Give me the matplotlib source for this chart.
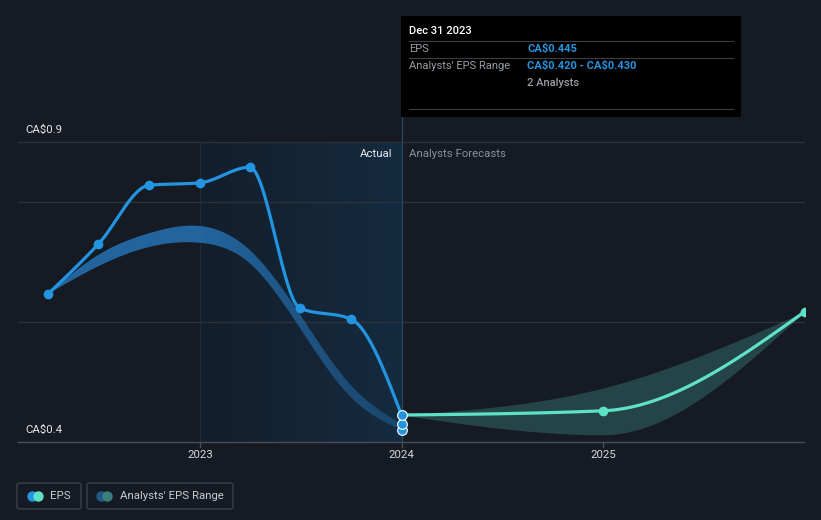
import numpy as np
import pandas as pd
import matplotlib
matplotlib.use("Agg")
import matplotlib.pyplot as plt
from matplotlib.patches import FancyBboxPatch, Rectangle
from matplotlib.colors import LinearSegmentedColormap, to_rgb

plt.rcParams['font.family'] = ['Roboto', 'DejaVu Sans']

# ---------------- data ----------------
eps_dates = ["2022-03-31", "2022-06-30", "2022-09-30", "2022-12-31",
             "2023-03-31", "2023-06-30", "2023-09-30", "2023-12-31"]
eps_values = [0.647, 0.730, 0.828, 0.832, 0.858, 0.623, 0.605, 0.445]

past_range_dates = eps_dates
past_range_high = [0.647, 0.712, 0.748, 0.760, 0.720, 0.613, 0.495, 0.430]
past_range_low = [0.647, 0.693, 0.725, 0.732, 0.698, 0.590, 0.475, 0.420]

fc_dates = ["2023-12-31", "2024-12-31", "2025-12-31"]
fc_values = [0.445, 0.452, 0.617]
fc_high = [0.445, 0.490, 0.617]
fc_low = [0.445, 0.412, 0.617]

dec2023_markers = [0.445, 0.430, 0.420]

x_ticks = [2023, 2024, 2025]
x_tick_labels = ["2023", "2024", "2025"]
y_labels = {0.9: "CA\\$0.9", 0.4: "CA\\$0.4"}
grid_values = [0.9, 0.8, 0.6, 0.4]

# ---------------- helpers ----------------
W, H = 821, 520


def dec_year(s):
    t = pd.Timestamp(s)
    start = pd.Timestamp(year=t.year, month=1, day=1)
    end = pd.Timestamp(year=t.year + 1, month=1, day=1)
    return t.year + (t - start) / (end - start) + 1.0 / 365.0


def monotone(x, y, n=60):
    x = np.asarray(x, float)
    y = np.asarray(y, float)
    k = len(x)
    h = np.diff(x)
    s = np.diff(y) / h
    t = np.zeros(k)
    for i in range(1, k - 1):
        p = (s[i - 1] * h[i] + s[i] * h[i - 1]) / (h[i - 1] + h[i])
        t[i] = (np.sign(s[i - 1]) + np.sign(s[i])) * min(abs(s[i - 1]), abs(s[i]), 0.5 * abs(p))
    t[0] = (3 * s[0] - t[1]) / 2 if k > 2 else s[0]
    t[-1] = (3 * s[-1] - t[-2]) / 2 if k > 2 else s[-1]
    xs, ys = [], []
    for i in range(k - 1):
        u = np.linspace(0, 1, n, endpoint=(i == k - 2))
        h00 = 2 * u**3 - 3 * u**2 + 1
        h10 = u**3 - 2 * u**2 + u
        h01 = -2 * u**3 + 3 * u**2
        h11 = u**3 - u**2
        xs.append(x[i] + u * h[i])
        ys.append(h00 * y[i] + h10 * h[i] * t[i] + h01 * y[i + 1] + h11 * h[i] * t[i + 1])
    return np.concatenate(xs), np.concatenate(ys)


def natural_spline(x, y, n=60):
    x = np.asarray(x, float)
    y = np.asarray(y, float)
    k = len(x)
    h = np.diff(x)
    A = np.zeros((k, k))
    b = np.zeros(k)
    A[0, 0] = A[-1, -1] = 1
    for i in range(1, k - 1):
        A[i, i - 1] = h[i - 1]
        A[i, i] = 2 * (h[i - 1] + h[i])
        A[i, i + 1] = h[i]
        b[i] = 6 * ((y[i + 1] - y[i]) / h[i] - (y[i] - y[i - 1]) / h[i - 1])
    M = np.linalg.solve(A, b)
    xs, ys = [], []
    for i in range(k - 1):
        xx = np.linspace(x[i], x[i + 1], n, endpoint=(i == k - 2))
        a = x[i + 1] - xx
        c = xx - x[i]
        yy = (M[i] * a**3 + M[i + 1] * c**3) / (6 * h[i]) \
            + (y[i] / h[i] - M[i] * h[i] / 6) * a + (y[i + 1] / h[i] - M[i + 1] * h[i] / 6) * c
        xs.append(xx)
        ys.append(yy)
    return np.concatenate(xs), np.concatenate(ys)


PX_PER_YEAR = 201.5
PX_PER_UNIT = 600.0
AX_RIGHT_PX = 805
x_left = 2023 - 200 / PX_PER_YEAR
x_right = 2023 + (AX_RIGHT_PX - 200) / PX_PER_YEAR
y_bottom = 0.4 - (H - 442) / PX_PER_UNIT
y_top = 0.4 + 442 / PX_PER_UNIT


def fx(px):
    return px / W


def fy(py):
    return 1 - py / H


BG = "#151a23"
BLUE = "#2394df"
MINT = "#5fe0c8"

fig = plt.figure(figsize=(W / 100, H / 100), dpi=100, facecolor=BG)
ax = fig.add_axes([0, 0, AX_RIGHT_PX / W, 1])
ax.set_facecolor(BG)
ax.set_xlim(x_left, x_right)
ax.set_ylim(y_bottom, y_top)
ax.axis("off")

x_ax0 = x_left + 17 / PX_PER_YEAR
x_ax1 = x_right

# shaded "actual" zone with gradient
cmap = LinearSegmentedColormap.from_list("g", ["#131e2b", "#152b40"])
grad = np.linspace(0, 1, 256).reshape(1, -1)
ax.imshow(grad, cmap=cmap, extent=[2023, 2024 + 0.5 / PX_PER_YEAR, 0.4, 0.9],
          aspect="auto", zorder=0.5, interpolation="bilinear")

# gridlines
for g in grid_values:
    ax.plot([x_ax0, x_ax1], [g, g], color="#2c323b" if g != 0.4 else "#4a4f57",
            lw=1.0, zorder=1, solid_capstyle="butt")

# vertical lines
ax.plot([2023, 2023], [0.4, 0.9], color="#1d2c3d", lw=1.0, zorder=1)
x_today = dec_year("2023-12-31")
ax.plot([x_today, x_today], [0.4, 0.4 + (442 - 117) / PX_PER_UNIT], color="#284461", lw=1.0, zorder=1)

# ticks
for xt, lab in zip(x_ticks, x_tick_labels):
    ax.plot([xt, xt], [0.4, 0.4 - 5 / PX_PER_UNIT], color="#4a4f57", lw=1.0, zorder=1)
    ax.text(xt, 0.4 - 13 / PX_PER_UNIT, lab, color="#d6d9dd", fontsize=8.2,
            ha="center", va="center", zorder=5)

# y labels
for v, lab in y_labels.items():
    ax.text(x_left + 25 / PX_PER_YEAR, v + 12 / PX_PER_UNIT, lab, color="#e4e6e9",
            fontsize=8.2, ha="left", va="center", zorder=5)

# past analyst range band (with horizontal fade)
px_dates = [dec_year(d) for d in past_range_dates]
bx, bh = natural_spline(px_dates, past_range_high)
_, bl = natural_spline(px_dates, past_range_low)
band = ax.fill_between(bx, bl, bh, color="none", lw=0, zorder=2)
xg = np.linspace(px_dates[0], px_dates[-1], 400)
alpha = np.where(xg < 2023, 0.95, 0.95 - (xg - 2023) / (px_dates[-1] - 2023) * 0.52)
rgba = np.zeros((2, len(xg), 4))
rgba[..., :3] = to_rgb("#236aa6")
rgba[..., 3] = alpha
im = ax.imshow(rgba, extent=[px_dates[0], px_dates[-1], 0.3, 1.0], aspect="auto",
               zorder=2, interpolation="bilinear")
im.set_clip_path(band.get_paths()[0], transform=ax.transData)

# forecast band
f_dates = [dec_year(d) for d in fc_dates]
fbx, fbh = monotone(f_dates, fc_high)
_, fbl = monotone(f_dates, fc_low)
ax.fill_between(fbx, fbl, fbh, color="#4fb8aa", alpha=0.27, lw=0, zorder=2)

# EPS line
ex = [dec_year(d) for d in eps_dates]
lx, ly = monotone(ex, eps_values)
ax.plot(lx, ly, color=BLUE, lw=2.3, zorder=3, solid_capstyle="round")
ax.plot(ex[:-1], eps_values[:-1], "o", color=BLUE, ms=6, zorder=4)

# forecast line
flx, fly = monotone(f_dates, fc_values)
ax.plot(flx, fly, color=MINT, lw=2.3, zorder=3, solid_capstyle="butt")
ax.plot(f_dates[1:], fc_values[1:], "o", color=MINT, ms=6, zorder=4)

# Dec 2023 markers
for v in dec2023_markers[::-1]:
    ax.plot([x_today], [v], "o", color=BLUE, ms=7, mec="white", mew=0.8, zorder=6)

# Actual / Forecast labels
fig.text(fx(392), fy(154), "Actual", color="#e8eaed", fontsize=8.2, ha="right", va="center")
fig.text(fx(409), fy(154), "Analysts Forecasts", color="#8b9097", fontsize=8.2, ha="left", va="center")

# tooltip
fig.patches.append(Rectangle((fx(401), fy(117)), fx(741) - fx(401), fy(16) - fy(117),
                             transform=fig.transFigure, facecolor="#000000", edgecolor="none", zorder=10))
for yy in (41, 58, 109):
    fig.add_artist(plt.Line2D([fx(409), fx(733)], [fy(yy), fy(yy)], transform=fig.transFigure,
                              color="#3a3d42", lw=0.8, zorder=11))
fig.text(fx(409), fy(31), "Dec 31 2023", color="#ffffff", fontsize=8, fontweight="medium",
         ha="left", va="center", zorder=12)
fig.text(fx(409), fy(49), "EPS", color="#9a9ea4", fontsize=8, ha="left", va="center", zorder=12)
fig.text(fx(527), fy(49), "CA\\$0.445", color=BLUE, fontsize=8, fontweight="bold",
         ha="left", va="center", zorder=12)
fig.text(fx(409), fy(66), "Analysts' EPS Range", color="#9a9ea4", fontsize=8, ha="left",
         va="center", zorder=12)
fig.text(fx(527), fy(66), "CA\\$0.420 - CA\\$0.430", color=BLUE, fontsize=8, fontweight="bold",
         ha="left", va="center", zorder=12)
fig.text(fx(527), fy(83), "2 Analysts", color="#9a9ea4", fontsize=8, fontweight="medium",
         ha="left", va="center", zorder=12)


# legend
def legend_box(x0, x1, c1, c2, cx, label, tx):
    fig.patches.append(FancyBboxPatch((fx(x0), fy(509)), fx(x1) - fx(x0), fy(483) - fy(509),
                                      boxstyle="round,pad=0,rounding_size=0.004",
                                      transform=fig.transFigure, facecolor="none",
                                      edgecolor="#3b4049", lw=1.0))
    yy = fy(496)
    fig.add_artist(plt.Line2D([fx(cx)], [yy], marker="o", ms=6.5, color=c1, lw=0,
                              transform=fig.transFigure))
    fig.add_artist(plt.Line2D([fx(cx + 6)], [yy], marker="o", ms=6.5, color=c2, lw=0,
                              transform=fig.transFigure))
    fig.text(fx(tx), yy, label, color="#c9ccd1", fontsize=8.2, ha="left", va="center")


legend_box(17, 81, BLUE, MINT, 32, "EPS", 50)
legend_box(87, 233, "#1f5a88", "#3a7f7c", 101, "Analysts' EPS Range", 120)

fig.savefig("out.png", dpi=100, facecolor=BG)
